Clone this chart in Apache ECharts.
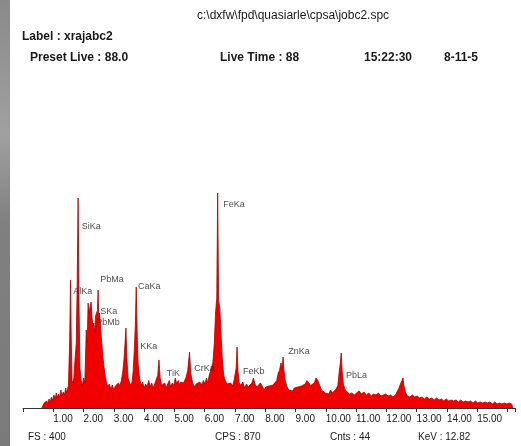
<!DOCTYPE html>
<html>
<head>
<meta charset="utf-8">
<script src="https://cdn.jsdelivr.net/npm/echarts@6/dist/echarts.min.js"></script>
<style>html,body{margin:0;padding:0;background:#fff;}#c{width:521px;height:446px;}</style>
</head>
<body>
<div id="c"></div>
<script>
// Spectrum: energy (keV) and counts
const energy = [0.62,0.66,0.70,0.74,0.78,0.82,0.86,0.90,0.94,0.98,1.02,1.06,1.10,1.13,1.17,1.21,1.25,1.29,1.33,1.37,1.41,1.44,
1.50,1.54,1.57,1.59,1.62,1.65,1.68,1.71,
1.76,1.79,1.82,1.85,1.88,1.92,1.96,2.00,2.04,
2.06,2.09,2.12,2.15,2.18,2.21,2.25,2.28,2.31,2.34,2.37,2.40,2.43,2.46,2.48,2.50,2.53,2.56,2.60,2.64,2.68,2.72,2.76,2.80,2.85,2.90,2.95,3.00,3.05,3.10,3.15,3.20,
3.25,3.30,3.34,3.37,3.40,3.43,3.47,3.52,3.57,3.61,
3.64,3.68,3.71,3.74,3.77,3.80,3.85,3.90,3.95,4.00,4.05,4.10,4.15,4.20,4.25,4.30,4.35,4.40,
4.45,4.49,4.53,4.58,4.63,4.68,4.73,4.78,4.83,4.88,4.93,4.98,5.03,5.08,5.13,5.17,5.21,
5.30,5.38,5.44,5.50,5.54,5.60,5.66,5.72,5.78,5.84,5.90,5.96,6.01,6.06,6.10,6.15,
6.21,6.27,6.32,6.36,6.40,6.43,6.46,6.50,6.54,6.58,6.63,6.68,6.74,6.80,6.86,6.92,6.97,
7.00,7.04,7.07,7.10,7.14,7.20,7.26,7.32,7.38,7.44,7.50,7.56,7.61,7.66,7.72,7.78,7.84,7.90,7.96,8.02,8.08,8.14,8.20,8.26,8.32,8.38,8.43,
8.47,8.52,8.56,8.59,8.62,8.66,8.72,8.78,8.84,8.90,8.96,9.02,9.08,9.14,9.20,9.26,9.32,9.38,9.44,9.50,9.56,9.62,9.68,9.74,9.80,9.86,9.92,9.98,10.04,10.10,10.16,10.22,10.28,10.34,10.40,
10.44,10.48,10.51,10.54,10.58,10.64,10.70,10.78,10.86,10.94,11.02,11.10,11.18,11.26,11.34,11.42,11.50,11.58,11.66,11.74,11.82,11.90,11.98,12.06,12.14,12.22,12.30,12.36,12.42,
12.48,12.52,12.55,12.58,12.64,12.70,12.78,12.86,12.94,13.02,13.10,13.18,13.26,13.34,13.42,13.50,13.58,13.66,13.74,13.82,13.90,13.98,14.06,14.14,14.22,14.30,14.38,14.46,14.54,14.62,14.70,14.78,14.86,14.94,15.02,15.10,15.18,15.26,15.34,15.42,15.50,15.58,15.66,15.74,15.82,15.90,15.98,16.06,16.14,16.18];
const counts = [0,8,20,12,28,18,36,24,44,30,52,36,60,40,56,44,72,48,64,52,80,60,
90,260,512,300,110,100,120,180,
260,500,840,420,160,110,90,120,100,
180,312,260,420,380,400,424,360,330,340,300,370,380,390,472,360,380,330,260,204,160,124,100,84,96,76,92,72,88,80,100,90,
110,150,200,260,320,200,120,100,90,110,
150,240,330,484,300,180,120,90,104,80,96,84,110,86,100,80,96,104,
130,192,120,90,84,100,80,96,110,84,100,90,120,96,110,92,104,
100,120,150,224,140,100,84,96,88,104,92,110,96,120,100,130,
124,180,260,380,440,860,430,400,300,200,130,110,96,90,100,88,110,
110,160,244,150,100,90,104,80,96,84,92,100,120,96,84,92,100,88,72,84,76,88,80,92,84,110,140,
150,180,160,204,150,110,84,72,80,68,80,72,84,76,88,80,96,110,100,90,96,100,120,110,90,72,72,60,68,56,72,60,64,76,90,
140,180,220,150,96,72,64,56,60,52,60,68,56,64,52,60,48,56,52,60,48,52,56,48,52,44,52,60,80,
100,110,120,90,60,48,44,52,44,48,40,44,36,44,36,40,32,40,32,36,28,36,28,32,28,32,24,32,24,28,24,28,20,28,20,24,20,24,20,24,16,24,16,20,16,20,16,20,16,0];

// Peak identification labels (text, keV, count position)
const peakNames = ['SiKa','AlKa','PbMa','SKa','PbMb','KKa','CaKa','TiK','CrKa','FeKa','FeKb','ZnKa','PbLa'];
const peakE     = [1.94, 1.66, 2.55, 2.55, 2.42, 3.87, 3.80, 4.75, 5.66, 6.61, 7.27, 8.76, 10.67];
const peakC     = [724, 464, 512, 384, 340, 244, 484, 136, 156, 812, 144, 224, 128];

// Axis ticks
const xMin = 0, xMax = 16.25, xInterval = 1;
const yMin = 0, yMax = 1000;

const chart = echarts.init(document.getElementById('c'), null, {renderer:'canvas'});
const FONT = '"Liberation Sans", Arial, sans-serif';
const txt = (x, y, s, size, weight) => ({type:'text', left:x, top:y, style:{text:s, fill:'#1a1a1a', font:(weight||'normal') + ' ' + (size||11) + 'px ' + FONT}});

chart.setOption({
  animation:false,
  backgroundColor:'#ffffff',
  grid:{left:23, right:6, top:158, bottom:38, containLabel:false},
  xAxis:{type:'value', min:xMin, max:xMax, interval:xInterval,
    axisLine:{show:true, lineStyle:{color:'#333', width:1}},
    axisTick:{show:true, length:4, lineStyle:{color:'#333'}},
    splitLine:{show:false},
    axisLabel:{show:true, margin:6, align:'left', fontSize:10, fontFamily:FONT, color:'#1a1a1a',
      formatter:v => (v>=1 && v<=15) ? v.toFixed(2) : ''}},
  yAxis:{type:'value', min:yMin, max:yMax, show:false},
  series:[
    {type:'line', data:energy.map((e,i)=>[e,counts[i]]), symbol:'none', sampling:false,
      lineStyle:{color:'#a80000', width:0.8}, areaStyle:{color:'#f20000', opacity:1}, z:2},
    {type:'scatter', data:peakE.map((e,i)=>[e,peakC[i],peakNames[i]]), symbolSize:0, z:5,
      label:{show:true, position:'right', distance:0, formatter:p=>p.data[2], fontSize:9, fontFamily:FONT, color:'#1a1a1a'}}
  ],
  graphic:[
    {type:'rect', left:0, top:0, shape:{width:10, height:446}, style:{fill:new echarts.graphic.LinearGradient(0,0,0,1,[{offset:0,color:'#8a8a8a'},{offset:0.3,color:'#a0a0a0'},{offset:0.5,color:'#808080'},{offset:1,color:'#7a7a7a'}])}},
    txt(197, 10, 'c:\\dxfw\\fpd\\quasiarle\\cpsa\\jobc2.spc', 12),
    txt(22, 31, 'Label : xrajabc2', 12, 'bold'),
    txt(30, 52, 'Preset Live : 88.0', 12, 'bold'),
    txt(220, 52, 'Live Time : 88', 12, 'bold'),
    txt(364, 52, '15:22:30', 12, 'bold'),
    txt(444, 52, '8-11-5', 12, 'bold'),
    txt(28, 432, 'FS : 400', 10),
    txt(215, 432, 'CPS : 870', 10),
    txt(330, 432, 'Cnts : 44', 10),
    txt(418, 432, 'KeV : 12.82', 10)
  ]
});
</script>
</body>
</html>
